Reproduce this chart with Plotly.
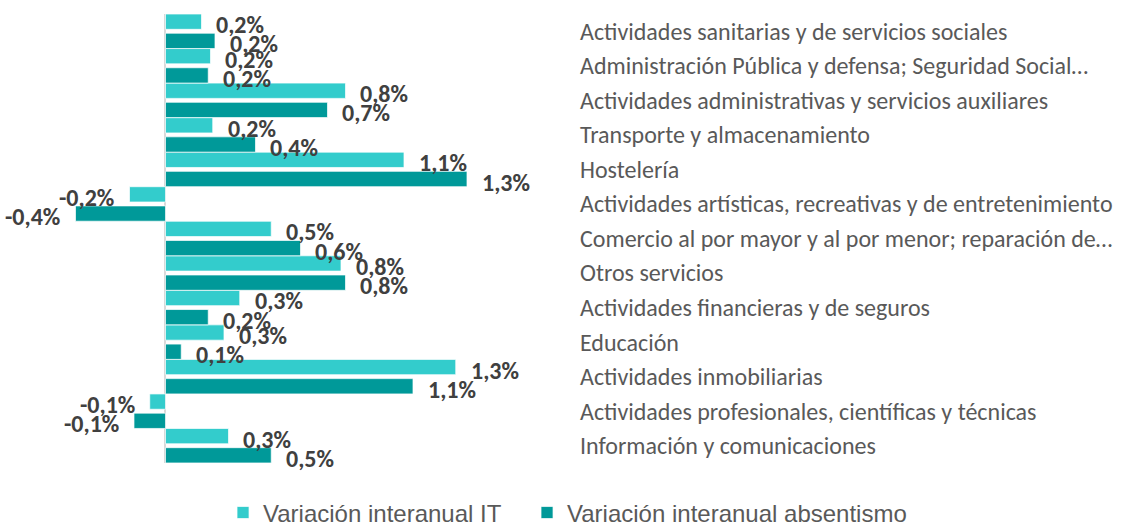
import plotly.graph_objects as go

categories = [
    "Actividades sanitarias y de servicios sociales",
    "Administración Pública y defensa; Seguridad Social…",
    "Actividades administrativas y servicios auxiliares",
    "Transporte y almacenamiento",
    "Hostelería",
    "Actividades artísticas, recreativas y de entretenimiento",
    "Comercio al por mayor y al por menor; reparación de…",
    "Otros servicios",
    "Actividades financieras y de seguros",
    "Educación",
    "Actividades inmobiliarias",
    "Actividades profesionales, científicas y técnicas",
    "Información y comunicaciones",
]
# values in percent (labels shown rounded to 1 decimal)
var_it = [0.16, 0.20, 0.80, 0.21, 1.06, -0.16, 0.47, 0.78, 0.33, 0.26, 1.29, -0.07, 0.28]
var_abs = [0.22, 0.19, 0.72, 0.40, 1.34, -0.40, 0.60, 0.80, 0.19, 0.07, 1.10, -0.14, 0.47]

series_names = ["Variación interanual IT", "Variación interanual absentismo"]
colors = ["#33CCCC", "#009999"]

OFF = 0.278
BW = 0.443
idx = list(range(len(categories)))
y_it = [i - OFF for i in idx]
y_abs = [i + OFF for i in idx]

fig = go.Figure()
for name, vals, ys, col, leg in [(series_names[0], var_it, y_it, colors[0], "legend"),
                                 (series_names[1], var_abs, y_abs, colors[1], "legend2")]:
    fig.add_trace(go.Bar(
        x=vals, y=ys, orientation="h", name=name, width=BW,
        marker=dict(color=col, line=dict(color="rgba(255,255,255,0.7)", width=1)),
        hoverinfo="x+name", legend=leg,
    ))

LABEL_FONT = dict(family="Carlito, Calibri, Lato, sans-serif", size=24, color="#404040")
annotations = []
for vals, ys in [(var_it, y_it), (var_abs, y_abs)]:
    for v, y in zip(vals, ys):
        txt = f"{v:.1f}%".replace(".", ",")
        annotations.append(dict(
            x=v, y=y, xref="x", yref="y", text=f"<b>{txt}</b>", showarrow=False,
            xanchor="left" if v >= 0 else "right",
            xshift=13 if v >= 0 else -13, yshift=-3,
            font=LABEL_FONT,
        ))

LEG_FONT = dict(family="Liberation Sans, Arial, sans-serif", size=24, color="#595959")
fig.update_layout(
    width=1123, height=525,
    margin=dict(l=5, r=551, t=13.5, b=61.7, autoexpand=False),
    plot_bgcolor="white", paper_bgcolor="white",
    barmode="overlay",
    showlegend=True,
    legend=dict(
        orientation="h", xref="container", yref="container",
        x=0.1986, xanchor="left", y=0.023, yanchor="middle",
        font=LEG_FONT, bgcolor="rgba(0,0,0,0)",
    ),
    legend2=dict(
        orientation="h", xref="container", yref="container",
        x=0.4693, xanchor="left", y=0.023, yanchor="middle",
        font=LEG_FONT, bgcolor="rgba(0,0,0,0)",
    ),
    annotations=annotations,
)
fig.update_xaxes(
    range=[-0.7133, 1.8067], showgrid=False, showticklabels=False, ticks="",
    zeroline=True, zerolinecolor="#D9D9D9", zerolinewidth=2, showline=False,
)
fig.update_yaxes(
    range=[12.5, -0.5], tickvals=idx, ticktext=categories, side="right",
    showgrid=False, zeroline=False, showline=False, ticks="", ticklabelstandoff=7,
    tickfont=dict(family="Carlito, Calibri, Lato, sans-serif", size=24, color="#595959"),
)

fig.write_html("out.html", config={"displayModeBar": False},
               post_script="document.body.style.margin='0';document.body.style.overflow='hidden';")
